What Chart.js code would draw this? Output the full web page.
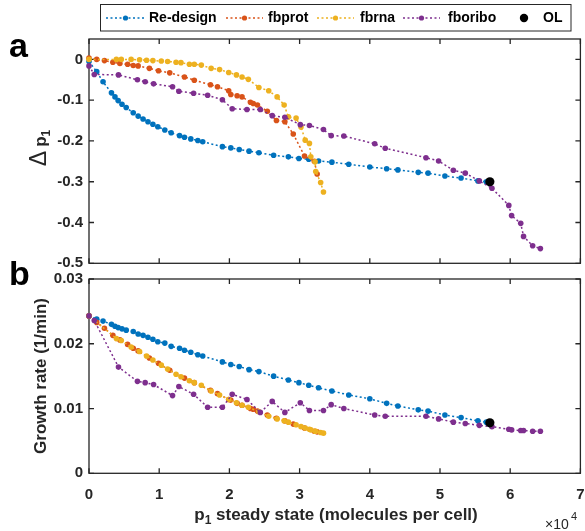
<!DOCTYPE html>
<html>
<head>
<meta charset="utf-8">
<script src="https://cdn.jsdelivr.net/npm/chart.js@4.4.1/dist/chart.umd.min.js"></script>
<style>
  body { margin: 0; background: #fff; }
  #wrap { position: relative; width: 585px; height: 531px; }
  canvas { position: absolute; left: 0; top: 0; }
</style>
</head>
<body>
<div id="wrap">
  <canvas id="topChart" width="585" height="531"></canvas>
  <canvas id="bottomChart" width="585" height="531"></canvas>
</div>
<script>
// p1 steady state is in units of 1e4 molecules per cell (axis shows x10^4)
const xTicks = [0, 1, 2, 3, 4, 5, 6, 7];
const dpTicks = [0, -0.1, -0.2, -0.3, -0.4, -0.5];
const grTicks = [0, 0.01, 0.02, 0.03];

const seriesNames = ['Re-design', 'fbprot', 'fbrna', 'fboribo', 'OL'];

const redesignP1 = [0, 0.11, 0.20, 0.32, 0.37, 0.415, 0.47, 0.53, 0.63, 0.70, 0.77, 0.84, 0.91, 0.98, 1.08, 1.17, 1.29, 1.36, 1.45, 1.55, 1.62, 1.90, 2.02, 2.14, 2.28, 2.42, 2.63, 2.84, 2.99, 3.13, 3.27, 3.46, 3.70, 4.00, 4.24, 4.40, 4.69, 4.83, 5.07, 5.30, 5.54, 5.66];
const redesignDp = [-0.005, -0.030, -0.055, -0.082, -0.092, -0.101, -0.110, -0.118, -0.131, -0.139, -0.146, -0.153, -0.159, -0.165, -0.173, -0.180, -0.187, -0.191, -0.195, -0.199, -0.202, -0.214, -0.217, -0.221, -0.225, -0.229, -0.235, -0.239, -0.243, -0.245, -0.249, -0.252, -0.257, -0.264, -0.268, -0.271, -0.277, -0.279, -0.286, -0.291, -0.298, -0.300];
const redesignGr = [0.0243, 0.0238, 0.0235, 0.0230, 0.0227, 0.0225, 0.0223, 0.0221, 0.0219, 0.0215, 0.0213, 0.0210, 0.0207, 0.0203, 0.0201, 0.0196, 0.0193, 0.0190, 0.0187, 0.0183, 0.0181, 0.0172, 0.0168, 0.0165, 0.0160, 0.0157, 0.0150, 0.0144, 0.0140, 0.0136, 0.0132, 0.0127, 0.0121, 0.0115, 0.0108, 0.0104, 0.0098, 0.0096, 0.0090, 0.0086, 0.0081, 0.0079];

const fbprotP1 = [0, 0.11, 0.22, 0.34, 0.44, 0.55, 0.63, 0.70, 0.86, 0.99, 1.15, 1.36, 1.50, 1.73, 1.83, 1.99, 2.02, 2.11, 2.18, 2.30, 2.34, 2.40, 2.54, 2.67, 2.79, 2.91, 3.07, 3.21, 3.25];
const fbprotDp = [0.003, 0.000, -0.003, -0.007, -0.010, -0.012, -0.015, -0.016, -0.022, -0.028, -0.033, -0.043, -0.051, -0.062, -0.067, -0.077, -0.086, -0.089, -0.092, -0.105, -0.108, -0.112, -0.127, -0.150, -0.153, -0.183, -0.237, -0.250, -0.281];
const fbprotGr = [0.0243, 0.0233, 0.0224, 0.0213, 0.0206, 0.0199, 0.0193, 0.0189, 0.0178, 0.0170, 0.0159, 0.0147, 0.0140, 0.0128, 0.0123, 0.0114, 0.0113, 0.0108, 0.0105, 0.0100, 0.0099, 0.0096, 0.0090, 0.0085, 0.0081, 0.0076, 0.0070, 0.0065, 0.0064];

const fbrnaP1 = [0, 0.39, 0.46, 0.60, 0.72, 0.82, 0.91, 1.03, 1.12, 1.24, 1.31, 1.43, 1.50, 1.60, 1.74, 1.86, 1.99, 2.10, 2.18, 2.27, 2.42, 2.56, 2.68, 2.78, 2.84, 2.95, 3.02, 3.08, 3.14, 3.16, 3.22, 3.23, 3.30, 3.34];
const fbrnaDp = [0, 0, 0, 0, -0.001, -0.002, -0.003, -0.004, -0.005, -0.007, -0.008, -0.012, -0.012, -0.014, -0.022, -0.025, -0.032, -0.038, -0.043, -0.049, -0.069, -0.077, -0.092, -0.112, -0.141, -0.144, -0.166, -0.198, -0.206, -0.239, -0.251, -0.275, -0.302, -0.325];
const fbrnaGr = [0.0243, 0.0208, 0.0205, 0.0195, 0.0188, 0.0181, 0.0175, 0.0167, 0.0161, 0.0153, 0.0149, 0.0143, 0.0140, 0.0136, 0.0127, 0.0121, 0.0114, 0.0109, 0.0105, 0.0102, 0.0095, 0.0088, 0.0084, 0.0081, 0.0079, 0.0075, 0.0072, 0.0070, 0.0068, 0.0067, 0.0065, 0.0065, 0.0063, 0.0062];

const fboriboP1 = [0, 0.075, 0.42, 0.69, 0.80, 0.92, 1.19, 1.28, 1.49, 1.69, 1.90, 2.04, 2.25, 2.44, 2.61, 2.79, 3.01, 3.14, 3.34, 3.45, 3.63, 4.07, 4.22, 4.80, 4.98, 5.19, 5.36, 5.56, 5.74, 5.98, 6.02, 6.15, 6.19, 6.32, 6.43];
const fboriboDp = [-0.016, -0.037, -0.038, -0.050, -0.055, -0.060, -0.067, -0.078, -0.083, -0.088, -0.099, -0.121, -0.123, -0.123, -0.138, -0.142, -0.160, -0.162, -0.172, -0.187, -0.188, -0.207, -0.218, -0.241, -0.249, -0.272, -0.279, -0.298, -0.316, -0.358, -0.383, -0.402, -0.434, -0.457, -0.464];
const fboriboGr = [0.0243, 0.0236, 0.0164, 0.0142, 0.0140, 0.0137, 0.0120, 0.0134, 0.0122, 0.0102, 0.0102, 0.0122, 0.0114, 0.0094, 0.0111, 0.0094, 0.0109, 0.0097, 0.0097, 0.0106, 0.0100, 0.0090, 0.0088, 0.0088, 0.0084, 0.0079, 0.0077, 0.0074, 0.0072, 0.0068, 0.0067, 0.0066, 0.0066, 0.0065, 0.0065];

const olP1 = [5.71];
const olDp = [-0.300];
const olGr = [0.0078];

const colors = ['#0072BD', '#D95319', '#EDB120', '#7E2F8E', '#000000'];
const FONT = "'Liberation Sans', Arial, Helvetica, sans-serif";
const AXIS = '#262626';

function lineSet(i, xs, ys) {
    return {
        label: seriesNames[i],
        data: xs.map((x, k) => ({x: x, y: ys[k]})),
        showLine: true,
        borderColor: colors[i],
        backgroundColor: colors[i],
        borderWidth: 1.5,
        borderDash: [2, 2.5],
        pointRadius: 2.8,
        pointBorderWidth: 0,
        pointBackgroundColor: colors[i],
        clip: false,
        order: 5 - i
    };
}

function olSet(xs, ys) {
    return {
        label: seriesNames[4],
        data: xs.map((x, k) => ({x: x, y: ys[k]})),
        showLine: false,
        pointRadius: 4.6,
        pointBorderWidth: 0,
        pointBackgroundColor: colors[4],
        clip: false,
        order: 0
    };
}

// box round the axes with inward ticks on all four sides
const framePlugin = {
    id: 'frame',
    beforeDatasetsDraw(chart) {
        const ctx = chart.ctx;
        const a = chart.chartArea;
        const sx = chart.scales.x, sy = chart.scales.y;
        ctx.save();
        ctx.strokeStyle = AXIS;
        ctx.lineWidth = 1.3;
        ctx.strokeRect(a.left, a.top, a.right - a.left, a.bottom - a.top);
        ctx.beginPath();
        sx.ticks.forEach(t => {
            const px = sx.getPixelForValue(t.value);
            ctx.moveTo(px, a.bottom); ctx.lineTo(px, a.bottom - 5);
            ctx.moveTo(px, a.top); ctx.lineTo(px, a.top + 5);
        });
        sy.ticks.forEach(t => {
            const py = sy.getPixelForValue(t.value);
            ctx.moveTo(a.left, py); ctx.lineTo(a.left + 5, py);
            ctx.moveTo(a.right, py); ctx.lineTo(a.right - 5, py);
        });
        ctx.stroke();
        ctx.restore();
    }
};

// legend item layout: sample line from x1 to x2, text at tx
const legendLayout = [
    {x1: 106, x2: 145, tx: 149},
    {x1: 226, x2: 263, tx: 268},
    {x1: 317, x2: 354, tx: 360},
    {x1: 403, x2: 440, tx: 448},
    {x1: 524, x2: 524, tx: 543}
];

const topDecor = {
    id: 'topDecor',
    afterDraw(chart) {
        const ctx = chart.ctx;
        ctx.save();
        // legend
        ctx.fillStyle = '#fff';
        ctx.fillRect(100.5, 4.5, 470.5, 26.5);
        ctx.strokeStyle = AXIS;
        ctx.lineWidth = 1;
        ctx.strokeRect(100.5, 4.5, 470.5, 26.5);
        const ly = 18;
        legendLayout.forEach((L, i) => {
            if (i < 4) {
                ctx.strokeStyle = colors[i];
                ctx.lineWidth = 1.5;
                ctx.setLineDash([2, 2.5]);
                ctx.beginPath();
                ctx.moveTo(L.x1, ly); ctx.lineTo(L.x2, ly);
                ctx.stroke();
                ctx.setLineDash([]);
            }
            ctx.fillStyle = colors[i];
            ctx.beginPath();
            ctx.arc((L.x1 + L.x2) / 2, ly, i < 4 ? 2.6 : 4.2, 0, Math.PI * 2);
            ctx.fill();
            ctx.fillStyle = '#000';
            ctx.font = 'bold 14px ' + FONT;
            ctx.textBaseline = 'middle';
            ctx.fillText(seriesNames[i], L.tx, ly);
        });
        // panel letter
        ctx.fillStyle = '#000';
        ctx.textBaseline = 'alphabetic';
        ctx.font = 'bold 34px ' + FONT;
        ctx.fillText('a', 9, 57);
        // y title: delta p_1
        ctx.translate(46, 148);
        ctx.rotate(-Math.PI / 2);
        ctx.fillStyle = AXIS;
        const fD = '23px ' + FONT, fM = 'bold 17px ' + FONT, fS = 'bold 12px ' + FONT;
        ctx.font = fD; const wD = ctx.measureText('\u0394').width;
        ctx.font = fM; const wP = ctx.measureText('p').width;
        ctx.font = fS; const w1 = ctx.measureText('1').width;
        const gap = 4;
        let x = -(wD + gap + wP + w1) / 2;
        ctx.font = fD; ctx.fillText('\u0394', x, 0); x += wD + gap;
        ctx.font = fM; ctx.fillText('p', x, 0); x += wP;
        ctx.font = fS; ctx.fillText('1', x, 4);
        ctx.restore();
    }
};

const bottomDecor = {
    id: 'bottomDecor',
    afterDraw(chart) {
        const ctx = chart.ctx;
        ctx.save();
        ctx.fillStyle = '#000';
        ctx.textBaseline = 'alphabetic';
        ctx.font = 'bold 34px ' + FONT;
        ctx.fillText('b', 9, 285);
        // x title
        ctx.fillStyle = AXIS;
        const fM = 'bold 17px ' + FONT, fS = 'bold 12px ' + FONT;
        const rest = ' steady state (molecules per cell)';
        ctx.font = fM; const wP = ctx.measureText('p').width; const wR = ctx.measureText(rest).width;
        ctx.font = fS; const w1 = ctx.measureText('1').width;
        let x = 336 - (wP + w1 + wR) / 2;
        ctx.font = fM; ctx.fillText('p', x, 520); x += wP;
        ctx.font = fS; ctx.fillText('1', x, 524); x += w1;
        ctx.font = fM; ctx.fillText(rest, x, 520);
        // exponent
        ctx.font = '14px ' + FONT;
        ctx.fillText('\u00d710', 545, 529);
        ctx.font = '11px ' + FONT;
        ctx.fillText('4', 571, 520);
        // y title
        ctx.translate(46, 376);
        ctx.rotate(-Math.PI / 2);
        ctx.font = fM;
        ctx.textAlign = 'center';
        ctx.fillText('Growth rate (1/min)', 0, 0);
        ctx.restore();
    }
};

function axisOpts(min, max, ticks, fit, showLabels, fmt) {
    return {
        type: 'linear',
        min: min,
        max: max,
        afterBuildTicks: s => { s.ticks = ticks.map(v => ({value: v})); },
        afterFit: s => {
            fit(s);
            s.paddingLeft = 0; s.paddingRight = 0;
            s.paddingTop = 0; s.paddingBottom = 0;
        },
        grid: {display: false, drawTicks: false},
        border: {display: false},
        ticks: {
            display: showLabels,
            font: {family: FONT, size: 15, weight: 'bold'},
            color: AXIS,
            padding: 6,
            callback: fmt
        }
    };
}

const commonPlugins = {legend: {display: false}, tooltip: {enabled: false}};

new Chart(document.getElementById('topChart'), {
    type: 'scatter',
    data: {
        datasets: [
            lineSet(0, redesignP1, redesignDp),
            lineSet(1, fbprotP1, fbprotDp),
            lineSet(2, fbrnaP1, fbrnaDp),
            lineSet(3, fboriboP1, fboriboDp),
            olSet(olP1, olDp)
        ]
    },
    options: {
        responsive: false,
        animation: false,
        layout: {padding: {top: 39, right: 0, left: 0, bottom: 0}},
        plugins: commonPlugins,
        scales: {
            x: axisOpts(0, 7, xTicks, s => { s.height = 267.7; }, false, v => String(v)),
            y: axisOpts(-0.5, 0.05, dpTicks, s => { s.width = 89; }, true, v => String(v))
        }
    },
    plugins: [framePlugin, topDecor]
});

const bx = axisOpts(0, 7, xTicks, s => { s.height = 57.7; }, true, v => String(v));
bx.ticks.padding = 13;

new Chart(document.getElementById('bottomChart'), {
    type: 'scatter',
    data: {
        datasets: [
            lineSet(0, redesignP1, redesignGr),
            lineSet(1, fbprotP1, fbprotGr),
            lineSet(2, fbrnaP1, fbrnaGr),
            lineSet(3, fboriboP1, fboriboGr),
            olSet(olP1, olGr)
        ]
    },
    options: {
        responsive: false,
        animation: false,
        layout: {padding: {top: 279, right: 0, left: 0, bottom: 0}},
        plugins: commonPlugins,
        scales: {
            x: bx,
            y: axisOpts(0, 0.03, grTicks, s => { s.width = 89; }, true, v => String(v))
        }
    },
    plugins: [framePlugin, bottomDecor]
});
</script>
</body>
</html>
